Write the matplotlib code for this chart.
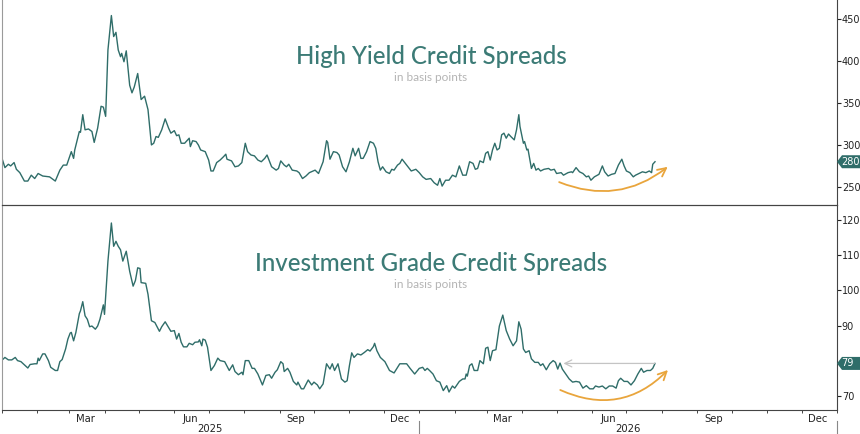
import numpy as np
import pandas as pd
import matplotlib
matplotlib.use("Agg")
import matplotlib.pyplot as plt
import matplotlib.dates as mdates
from matplotlib.patches import Polygon, FancyArrowPatch
from matplotlib.transforms import IdentityTransform, blended_transform_factory

# ---------------- data ----------------
hy_dates = [
    "2025-01-01", "2025-01-04", "2025-01-07", "2025-01-09", "2025-01-12", "2025-01-14", "2025-01-17",
    "2025-01-21", "2025-01-24", "2025-01-27", "2025-01-30", "2025-02-02", "2025-02-06", "2025-02-12",
    "2025-02-17", "2025-02-21", "2025-02-24", "2025-02-27", "2025-03-03", "2025-03-05", "2025-03-06",
    "2025-03-10", "2025-03-11", "2025-03-13", "2025-03-15", "2025-03-18", "2025-03-21", "2025-03-23",
    "2025-03-26", "2025-03-29", "2025-03-31", "2025-04-02", "2025-04-04", "2025-04-07", "2025-04-09",
    "2025-04-11", "2025-04-13", "2025-04-15", "2025-04-16", "2025-04-18", "2025-04-20", "2025-04-23",
    "2025-04-25", "2025-04-27", "2025-04-30", "2025-05-03", "2025-05-06", "2025-05-09", "2025-05-12",
    "2025-05-14", "2025-05-16", "2025-05-18", "2025-05-21", "2025-05-24", "2025-05-27", "2025-05-29",
    "2025-06-01", "2025-06-03", "2025-06-05", "2025-06-07", "2025-06-10", "2025-06-14", "2025-06-15",
    "2025-06-17", "2025-06-20", "2025-06-22", "2025-06-24", "2025-06-28", "2025-07-01", "2025-07-03",
    "2025-07-05", "2025-07-08", "2025-07-11", "2025-07-14", "2025-07-16", "2025-07-17", "2025-07-21",
    "2025-07-24", "2025-07-27", "2025-07-30", "2025-08-02", "2025-08-04", "2025-08-07", "2025-08-10",
    "2025-08-13", "2025-08-16", "2025-08-19", "2025-08-21", "2025-08-25", "2025-08-29", "2025-08-31",
    "2025-09-02", "2025-09-05", "2025-09-07", "2025-09-09", "2025-09-12", "2025-09-16", "2025-09-18",
    "2025-09-21", "2025-09-24", "2025-09-27", "2025-10-02", "2025-10-05", "2025-10-09", "2025-10-12",
    "2025-10-13", "2025-10-15", "2025-10-18", "2025-10-21", "2025-10-23", "2025-10-26", "2025-10-29",
    "2025-11-01", "2025-11-04", "2025-11-06", "2025-11-09", "2025-11-11", "2025-11-13", "2025-11-16",
    "2025-11-19", "2025-11-22", "2025-11-24", "2025-11-26", "2025-11-28", "2025-11-30", "2025-12-03",
    "2025-12-06", "2025-12-08", "2025-12-10", "2025-12-13", "2025-12-15", "2025-12-17", "2025-12-21",
    "2025-12-25", "2025-12-29", "2026-01-01", "2026-01-04", "2026-01-07", "2026-01-11", "2026-01-14",
    "2026-01-17", "2026-01-19", "2026-01-21", "2026-01-24", "2026-01-27", "2026-01-30", "2026-02-02",
    "2026-02-05", "2026-02-08", "2026-02-11", "2026-02-14", "2026-02-17", "2026-02-19", "2026-02-21",
    "2026-02-23", "2026-02-26", "2026-02-28", "2026-03-02", "2026-03-04", "2026-03-06", "2026-03-08",
    "2026-03-10", "2026-03-12", "2026-03-14", "2026-03-16", "2026-03-18", "2026-03-20", "2026-03-22",
    "2026-03-25", "2026-03-27", "2026-03-29", "2026-03-30", "2026-04-02", "2026-04-03", "2026-04-05",
    "2026-04-06", "2026-04-09", "2026-04-11", "2026-04-13", "2026-04-15", "2026-04-17", "2026-04-20",
    "2026-04-24", "2026-04-26", "2026-04-29", "2026-05-01", "2026-05-05", "2026-05-07", "2026-05-11",
    "2026-05-14", "2026-05-15", "2026-05-18", "2026-05-21", "2026-05-24", "2026-05-27", "2026-05-29",
    "2026-05-31", "2026-06-03", "2026-06-07", "2026-06-10", "2026-06-12", "2026-06-15", "2026-06-18",
    "2026-06-21", "2026-06-24", "2026-06-27", "2026-06-29", "2026-07-01", "2026-07-04", "2026-07-07",
    "2026-07-09", "2026-07-12", "2026-07-15", "2026-07-18", "2026-07-21", "2026-07-23", "2026-07-24",
    "2026-07-26",
]
hy_values = [
    286, 273, 277, 275, 279, 271, 267,
    257, 257, 264, 260, 266, 263, 262,
    257, 270, 276, 276, 292, 284, 294,
    316, 315, 336, 318, 319, 316, 303,
    320, 346, 345, 334, 413, 454, 429,
    434, 413, 405, 409, 399, 412, 371,
    362, 369, 385, 354, 358, 342, 300,
    302, 310, 309, 318, 331, 320, 314,
    317, 311, 312, 302, 302, 308, 298,
    305, 304, 300, 294, 292, 282, 269,
    269, 279, 282, 286, 289, 283, 281,
    274, 275, 279, 302, 292, 288, 287,
    282, 280, 284, 288, 274, 270, 272,
    281, 276, 274, 277, 270, 269, 267,
    260, 263, 267, 270, 266, 280, 305,
    303, 283, 292, 291, 288, 274, 268,
    280, 296, 287, 296, 284, 284, 292,
    304, 302, 296, 280, 270, 274, 268,
    266, 271, 270, 276, 278, 283, 276,
    269, 271, 267, 262, 259, 260, 255,
    252, 260, 251, 258, 258, 264, 262,
    275, 264, 264, 280, 278, 271, 272,
    281, 279, 290, 292, 282, 294, 302,
    294, 296, 312, 314, 308, 313, 310,
    306, 318, 336, 322, 302, 304, 294,
    295, 272, 278, 270, 272, 269, 271,
    272, 270, 271, 266, 267, 264, 267,
    268, 267, 273, 268, 266, 262, 263,
    258, 262, 265, 275, 268, 263, 265,
    266, 276, 283, 275, 269, 267, 262,
    264, 266, 268, 267, 269, 267, 277,
    280,
]

ig_dates = [
    "2025-01-01", "2025-01-04", "2025-01-07", "2025-01-10", "2025-01-13", "2025-01-15", "2025-01-18",
    "2025-01-21", "2025-01-24", "2025-01-26", "2025-01-30", "2025-02-01", "2025-02-02", "2025-02-03",
    "2025-02-06", "2025-02-08", "2025-02-11", "2025-02-13", "2025-02-17", "2025-02-19", "2025-02-21",
    "2025-02-23", "2025-02-26", "2025-02-28", "2025-03-02", "2025-03-03", "2025-03-05", "2025-03-07",
    "2025-03-10", "2025-03-11", "2025-03-13", "2025-03-15", "2025-03-17", "2025-03-19", "2025-03-21",
    "2025-03-24", "2025-03-26", "2025-03-28", "2025-03-31", "2025-04-01", "2025-04-04", "2025-04-07",
    "2025-04-09", "2025-04-11", "2025-04-13", "2025-04-15", "2025-04-17", "2025-04-20", "2025-04-23",
    "2025-04-26", "2025-04-28", "2025-04-30", "2025-05-02", "2025-05-03", "2025-05-07", "2025-05-09",
    "2025-05-12", "2025-05-15", "2025-05-19", "2025-05-21", "2025-05-24", "2025-05-27", "2025-05-29",
    "2025-06-01", "2025-06-03", "2025-06-05", "2025-06-07", "2025-06-09", "2025-06-12", "2025-06-14",
    "2025-06-17", "2025-06-19", "2025-06-22", "2025-06-23", "2025-06-25", "2025-06-26", "2025-06-28",
    "2025-06-30", "2025-07-03", "2025-07-06", "2025-07-09", "2025-07-11", "2025-07-15", "2025-07-19",
    "2025-07-22", "2025-07-24", "2025-07-27", "2025-07-30", "2025-07-31", "2025-08-02", "2025-08-05",
    "2025-08-08", "2025-08-10", "2025-08-13", "2025-08-17", "2025-08-20", "2025-08-23", "2025-08-25",
    "2025-08-28", "2025-08-30", "2025-09-02", "2025-09-04", "2025-09-05", "2025-09-08", "2025-09-10",
    "2025-09-13", "2025-09-16", "2025-09-17", "2025-09-20", "2025-09-22", "2025-09-26", "2025-09-29",
    "2025-10-01", "2025-10-04", "2025-10-06", "2025-10-09", "2025-10-12", "2025-10-15", "2025-10-17",
    "2025-10-19", "2025-10-22", "2025-10-25", "2025-10-28", "2025-10-30", "2025-11-01", "2025-11-03",
    "2025-11-05", "2025-11-08", "2025-11-11", "2025-11-14", "2025-11-17", "2025-11-19", "2025-11-22",
    "2025-11-23", "2025-11-25", "2025-11-28", "2025-12-02", "2025-12-06", "2025-12-10", "2025-12-15",
    "2025-12-21", "2025-12-24", "2025-12-28", "2026-01-01", "2026-01-04", "2026-01-06", "2026-01-08",
    "2026-01-10", "2026-01-13", "2026-01-16", "2026-01-19", "2026-01-22", "2026-01-25", "2026-01-27",
    "2026-01-30", "2026-02-01", "2026-02-05", "2026-02-08", "2026-02-10", "2026-02-11", "2026-02-12",
    "2026-02-14", "2026-02-16", "2026-02-18", "2026-02-21", "2026-02-23", "2026-02-26", "2026-02-28",
    "2026-03-02", "2026-03-04", "2026-03-06", "2026-03-09", "2026-03-12", "2026-03-15", "2026-03-18",
    "2026-03-21", "2026-03-24", "2026-03-27", "2026-03-29", "2026-03-31", "2026-04-02", "2026-04-04",
    "2026-04-07", "2026-04-09", "2026-04-12", "2026-04-15", "2026-04-17", "2026-04-19", "2026-04-22",
    "2026-04-25", "2026-04-28", "2026-04-30", "2026-05-02", "2026-05-04", "2026-05-06", "2026-05-09",
    "2026-05-12", "2026-05-15", "2026-05-18", "2026-05-21", "2026-05-24", "2026-05-27", "2026-05-30",
    "2026-06-02", "2026-06-04", "2026-06-07", "2026-06-10", "2026-06-13", "2026-06-16", "2026-06-19",
    "2026-06-22", "2026-06-24", "2026-06-26", "2026-06-29", "2026-07-02", "2026-07-05", "2026-07-08",
    "2026-07-11", "2026-07-14", "2026-07-16", "2026-07-19", "2026-07-22", "2026-07-24", "2026-07-26",
]
ig_values = [
    80.1, 81.0, 80.3, 80.3, 81.0, 80.1, 79.8,
    78.9, 78.0, 79.0, 79.2, 79.2, 80.8, 80.1,
    82.0, 82.0, 80.1, 78.2, 77.3, 77.3, 79.8,
    80.4, 83.4, 86.2, 87.9, 88.1, 85.7, 88.1,
    93.4, 94.2, 96.8, 92.8, 91.8, 89.7, 89.9,
    89.0, 89.9, 91.8, 95.9, 93.2, 108.3, 119.1,
    112.5, 113.9, 112.5, 111.5, 108.3, 111.1, 105.4,
    101.2, 102.8, 106.4, 106.2, 102.2, 102.0, 98.9,
    91.4, 90.9, 88.4, 89.7, 91.1, 89.5, 88.4,
    88.6, 86.2, 87.8, 85.3, 84.0, 84.0, 85.0,
    84.6, 85.3, 85.4, 86.0, 84.3, 86.2, 85.9,
    83.9, 77.3, 78.7, 80.8, 80.1, 79.8, 77.3,
    78.9, 77.0, 76.1, 76.8, 76.1, 80.1, 80.1,
    77.9, 77.9, 76.3, 73.2, 75.9, 76.1, 75.1,
    76.8, 77.5, 79.8, 79.2, 77.0, 77.9, 76.8,
    74.2, 73.2, 74.0, 72.1, 72.1, 74.6, 73.2,
    74.0, 73.2, 72.1, 73.5, 79.2, 77.7, 79.2,
    77.3, 79.2, 74.9, 74.0, 74.4, 78.7, 82.3,
    81.0, 82.0, 81.7, 82.4, 83.2, 82.8, 84.1,
    85.0, 82.9, 81.0, 79.8, 77.3, 76.6, 79.2,
    79.2, 77.9, 76.3, 77.9, 78.2, 77.3, 77.9,
    77.3, 76.3, 74.4, 74.0, 71.6, 73.0, 71.2,
    72.9, 72.3, 74.2, 74.9, 74.9, 76.3, 75.7,
    78.7, 79.2, 77.3, 77.3, 80.1, 79.2, 83.6,
    83.9, 80.1, 82.9, 83.2, 89.9, 93.0, 88.6,
    86.2, 84.3, 85.7, 91.1, 89.0, 83.4, 82.4,
    82.9, 80.6, 79.6, 79.6, 78.7, 79.2, 77.5,
    79.2, 80.1, 79.6, 77.7, 79.4, 77.7, 76.3,
    74.9, 74.0, 74.2, 74.0, 72.3, 73.0, 72.1,
    72.1, 72.9, 72.6, 72.9, 72.1, 72.9, 72.9,
    72.3, 74.4, 75.1, 74.2, 74.2, 73.2, 74.4,
    76.3, 77.9, 76.8, 77.3, 77.3, 77.9, 79.3,
]

hy_ticks = [250, 300, 350, 400, 450]
ig_ticks = [70, 90, 100, 110, 120]
year_labels = ["2025", "2026"]
titles = ["High Yield Credit Spreads", "Investment Grade Credit Spreads"]
subtitle = "in basis points"

# ---------------- styling ----------------
LINE = "#2f6d69"
TITLE = "#3c7b76"
TAG = "#2f6d69"
ORANGE = "#e9a53c"
GREY_TXT = "#b4b4b4"
SPINE = "#444444"

W, H = 860, 434
fig = plt.figure(figsize=(W / 100, H / 100), dpi=100)
fig.patch.set_facecolor("white")

left = 1.5 / W
right = 837 / W
ax1 = fig.add_axes([left, 1 - 205 / H, right - left, 205 / H])
ax2 = fig.add_axes([left, 1 - 410 / H, right - left, 205 / H], sharex=ax1)

hy_x = pd.to_datetime(hy_dates)
ig_x = pd.to_datetime(ig_dates)

ax1.plot(hy_x, hy_values, color=LINE, lw=1.0, solid_joinstyle="round")
ax2.plot(ig_x, ig_values, color=LINE, lw=1.0, solid_joinstyle="round")

x0, x1 = pd.Timestamp("2025-01-01"), pd.Timestamp("2027-01-01")
ax1.set_xlim(x0, x1)
ax1.set_ylim(228.5, 472.5)
ax2.set_ylim(66.1, 124.2)

for ax, ticks in ((ax1, hy_ticks), (ax2, ig_ticks)):
    ax.yaxis.tick_right()
    ax.set_yticks(ticks)
    ax.set_yticklabels([str(t) for t in ticks])
    ax.tick_params(axis="y", direction="out", length=3, width=0.8, pad=0.5,
                   labelsize=7, colors="#222222")
    ax.spines["top"].set_visible(False)
    ax.spines["right"].set_color(SPINE)
    ax.spines["right"].set_linewidth(0.8)
    ax.spines["bottom"].set_color(SPINE)
    ax.spines["bottom"].set_linewidth(0.8)
    ax.spines["left"].set_color("#9a9a9a")
    ax.spines["left"].set_linewidth(0.8)
    ax.set_facecolor("none")

ax2.spines["top"].set_visible(True)
ax2.spines["top"].set_color(SPINE)
ax2.spines["top"].set_linewidth(0.8)

ax1.tick_params(axis="x", which="both", bottom=False, labelbottom=False)

# x axis of bottom panel
ax2.xaxis.set_major_locator(mdates.MonthLocator(bymonth=[3, 6, 9, 12], bymonthday=15))
ax2.xaxis.set_major_formatter(mdates.DateFormatter("%b"))
ax2.xaxis.set_minor_locator(mdates.MonthLocator())
ax2.tick_params(axis="x", which="major", length=0, pad=3, labelsize=7.2, colors="#222222")
ax2.tick_params(axis="x", which="minor", length=2.5, width=0.7, color=SPINE, direction="out")

btrans = blended_transform_factory(ax2.transData, ax2.transAxes)
for yl in year_labels:
    mid = pd.Timestamp(f"{yl}-07-02")
    ax2.text(mid, -0.095, yl, transform=btrans, ha="center", va="center",
             fontsize=7.2, color="#222222", clip_on=False)
for sep in ("2026-01-01", "2027-01-01"):
    ax2.plot([pd.Timestamp(sep)] * 2, [-0.055, -0.12], transform=btrans,
             color="#888888", lw=0.8, clip_on=False)

# titles
tfont = ["Lato", "DejaVu Sans"]
ax1.text(0.514, 0.688, titles[0], transform=ax1.transAxes, ha="center", va="baseline",
         fontsize=17.3, color=TITLE, family=tfont, fontweight="medium")
ax1.text(0.514, 0.624, subtitle, transform=ax1.transAxes, ha="center", va="center",
         fontsize=8.5, color=GREY_TXT, family=tfont)
ax2.text(0.514, 0.678, titles[1], transform=ax2.transAxes, ha="center", va="baseline",
         fontsize=17.3, color=TITLE, family=tfont, fontweight="medium")
ax2.text(0.514, 0.61, subtitle, transform=ax2.transAxes, ha="center", va="center",
         fontsize=8.5, color=GREY_TXT, family=tfont)

# orange curved arrows (start date/value, end date/value)
arrow_specs = [
    (ax1, ("2026-05-01", 257), ("2026-08-08", 276), 0.3),
    (ax2, ("2026-05-02", 72.1), ("2026-08-08", 78.0), 0.36),
]
for ax, (d0, v0), (d1, v1), rad in arrow_specs:
    ax.add_patch(FancyArrowPatch((mdates.date2num(pd.Timestamp(d0)), v0),
                                 (mdates.date2num(pd.Timestamp(d1)), v1),
                                 connectionstyle=f"arc3,rad={rad}",
                                 arrowstyle="->,head_length=6,head_width=3",
                                 color=ORANGE, lw=1.3, mutation_scale=1))

# grey horizontal arrow in IG panel (back to earlier level)
ax2.annotate("", xy=(pd.Timestamp("2026-05-07"), ig_values[-1]),
             xytext=(pd.Timestamp("2026-07-26"), ig_values[-1]),
             arrowprops=dict(arrowstyle="->,head_length=0.5,head_width=0.25",
                             color="#c4c4c4", lw=0.9, shrinkA=0, shrinkB=0))

# last-value tags
for ax, vals in ((ax1, hy_values), (ax2, ig_values)):
    last = vals[-1]
    _, yc = ax.transData.transform((mdates.date2num(x0), last))
    xa = right * W
    hh = 6.5
    poly = Polygon([(xa, yc), (xa + 5, yc + hh), (W + 2, yc + hh), (W + 2, yc - hh), (xa + 5, yc - hh)],
                   closed=True, transform=IdentityTransform(), facecolor=TAG, edgecolor="none")
    fig.add_artist(poly)
    fig.text(xa + 4.5, yc, f"{round(last)}", transform=IdentityTransform(), ha="left", va="center",
             fontsize=7, color="white")

fig.savefig("out.png", dpi=100, facecolor="white")
